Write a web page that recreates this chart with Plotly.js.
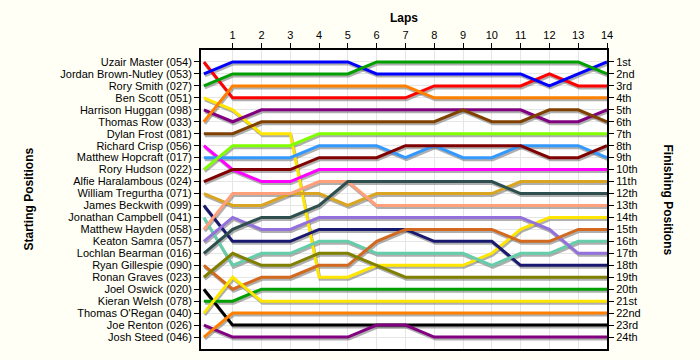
<!DOCTYPE html>
<html>
<head>
<meta charset="utf-8">
<script src="https://cdn.plot.ly/plotly-3.0.1.min.js"></script>
<style>
html, body { margin: 0; padding: 0; background: #fffff6; }
#chart { width: 700px; height: 360px; }
</style>
</head>
<body>
<div id="chart"></div>
<script>
// ---- data ----
const laps = [0, 1, 2, 3, 4, 5, 6, 7, 8, 9, 10, 11, 12, 13, 14];
const lapTicks = [1, 2, 3, 4, 5, 6, 7, 8, 9, 10, 11, 12, 13, 14];
const positionTicks = [1,2,3,4,5,6,7,8,9,10,11,12,13,14,15,16,17,18,19,20,21,22,23,24];

const drivers = [
  "Uzair Master (054)", "Jordan Brown-Nutley (053)", "Rory Smith (027)", "Ben Scott (051)",
  "Harrison Huggan (098)", "Thomas Row (033)", "Dylan Frost (081)", "Richard Crisp (056)",
  "Matthew Hopcraft (017)", "Rory Hudson (022)", "Alfie Haralambous (024)", "William Tregurtha (071)",
  "James Beckwith (099)", "Jonathan Campbell (041)", "Matthew Hayden (058)", "Keaton Samra (057)",
  "Lochlan Bearman (016)", "Ryan Gillespie (090)", "Ronan Graves (023)", "Joel Oswick (020)",
  "Kieran Welsh (078)", "Thomas O'Regan (040)", "Joe Renton (026)", "Josh Steed (046)"
];

const finishLabels = ["1st","2nd","3rd","4th","5th","6th","7th","8th","9th","10th","11th","12th",
  "13th","14th","15th","16th","17th","18th","19th","20th","21st","22nd","23rd","24th"];

// positions per lap (lap 0 = start)
const posUzair     = [1,4,4,4,4,4,4,4,3,3,3,3,2,3,3];
const posJordan    = [2,1,1,1,1,1,2,2,2,2,2,2,3,2,1];
const posRorySmith = [3,2,2,2,2,2,1,1,1,1,1,1,1,1,2];
const posBen       = [4,5,7,7,19,19,18,18,18,18,17,15,14,14,14];
const posHarrison  = [5,6,5,5,5,5,5,5,5,5,5,5,6,6,5];
const posThomasRow = [6,3,3,3,3,3,3,3,4,4,4,4,4,4,4];
const posDylan     = [7,7,6,6,6,6,6,6,6,5,6,6,5,5,6];
const posRichard   = [8,10,11,11,10,10,10,10,10,10,10,10,10,10,10];
const posHopcraft  = [9,9,9,9,8,8,8,9,8,9,9,8,8,8,9];
const posRoryHudson= [10,8,8,8,7,7,7,7,7,7,7,7,7,7,7];
const posAlfie     = [11,10,10,10,9,9,9,8,8,8,8,8,9,9,8];
const posWilliam   = [12,13,13,12,12,13,12,12,12,12,12,11,11,11,11];
const posJames     = [13,16,16,16,15,15,15,15,16,16,16,18,18,18,18];
const posJonathan  = [14,18,17,17,16,16,17,17,17,17,18,17,17,16,16];
const posHayden    = [15,12,12,12,11,11,13,13,13,13,13,13,13,13,13];
const posKeaton    = [16,14,15,15,14,14,14,14,14,14,14,14,15,17,17];
const posLochlan   = [17,15,14,14,13,11,11,11,11,11,11,12,12,12,12];
const posRyan      = [18,20,19,19,18,18,16,15,15,15,15,16,16,15,15];
const posRonan     = [19,17,18,18,17,17,18,19,19,19,19,19,19,19,19];
const posJoel      = [20,23,23,23,23,23,23,23,23,23,23,23,23,23,23];
const posKieran    = [21,21,20,20,20,20,20,20,20,20,20,20,20,20,20];
const posORegan    = [22,19,21,21,21,21,21,21,21,21,21,21,21,21,21];
const posJoe       = [23,24,24,24,24,24,23,23,24,24,24,24,24,24,24];
const posJosh      = [24,22,22,22,22,22,22,22,22,22,22,22,22,22,22];

const series = [posUzair, posJordan, posRorySmith, posBen, posHarrison, posThomasRow, posDylan,
  posRichard, posHopcraft, posRoryHudson, posAlfie, posWilliam, posJames, posJonathan, posHayden,
  posKeaton, posLochlan, posRyan, posRonan, posJoel, posKieran, posORegan, posJoe, posJosh];

// ---- styling ----
const colors = ["#FF0000", "#0000FF", "#00A000", "#FFE600", "#800080", "#FF8000", "#804000",
  "#FF00FF", "#3399FF", "#80FF00", "#800000", "#DAA520", "#191970", "#66CDAA", "#FFA07A",
  "#9370DB", "#2F4F4F", "#D2691E", "#808000", "#000000", "#00A000", "#FFE600", "#800080", "#FF8000"];

const W = 700, H = 360;
const M = { l: 201, r: 93, t: 50, b: 11 };
const xRange = [-0.1, 14];
const yRange = [25, 0];
const plotW = W - M.l - M.r, plotH = H - M.t - M.b;
const pxX = (xRange[1] - xRange[0]) / plotW;
const pxY = (yRange[0] - yRange[1]) / plotH;
const shadowDx = 1 * pxX, shadowDy = 2 * pxY;

const traces = [];
series.forEach((s, i) => {
  traces.push({
    x: laps.map(v => v + shadowDx), y: s.map(v => v + shadowDy),
    type: "scatter", mode: "lines",
    line: { color: "rgba(110,110,110,0.55)", width: 3 },
    hoverinfo: "skip", showlegend: false, xaxis: "x", yaxis: "y"
  });
});
series.forEach((s, i) => {
  traces.push({
    x: laps, y: s, name: drivers[i],
    type: "scatter", mode: "lines",
    line: { color: colors[i], width: 3 },
    showlegend: false, xaxis: "x", yaxis: "y"
  });
});
// carrier for the right axis
traces.push({ x: [laps[0]], y: [positionTicks[0]], type: "scatter", mode: "markers",
  marker: { opacity: 0 }, hoverinfo: "skip", showlegend: false, xaxis: "x", yaxis: "y2" });

const tickFont = { family: "Liberation Sans, Arial, sans-serif", size: 11, color: "#000" };
const titleFont = { family: "Liberation Sans, Arial, sans-serif", size: 12, color: "#000" };

const layout = {
  width: W, height: H,
  margin: M,
  paper_bgcolor: "#fffff6",
  plot_bgcolor: "#ffffff",
  showlegend: false,
  xaxis: {
    range: xRange, side: "top", tickmode: "array", tickvals: lapTicks,
    ticks: "outside", ticklen: 5, tickcolor: "#000", tickwidth: 1,
    showline: true, linecolor: "#000", linewidth: 2, mirror: true,
    showgrid: true, gridcolor: "#e6e6e6", gridwidth: 1, zeroline: false,
    tickfont: tickFont,
    title: { text: "<b>Laps</b>", font: titleFont, standoff: 3 }
  },
  yaxis: {
    range: yRange, tickmode: "array", tickvals: positionTicks, ticktext: drivers,
    ticks: "outside", ticklen: 5, tickcolor: "#000", tickwidth: 1,
    showline: true, linecolor: "#000", linewidth: 2,
    showgrid: true, gridcolor: "#e6e6e6", gridwidth: 1, zeroline: false,
    tickfont: tickFont
  },
  yaxis2: {
    range: yRange, overlaying: "y", side: "right", tickmode: "array",
    tickvals: positionTicks, ticktext: finishLabels,
    ticks: "outside", ticklen: 5, tickcolor: "#000", tickwidth: 1,
    showline: true, linecolor: "#000", linewidth: 2,
    showgrid: false, zeroline: false, tickfont: tickFont
  },
  annotations: [
    { text: "<b>Starting Positions</b>", xref: "paper", yref: "paper",
      x: (28 - M.l) / plotW, y: 0.5, textangle: -90, showarrow: false,
      xanchor: "center", yanchor: "middle", font: titleFont },
    { text: "<b>Finishing Positions</b>", xref: "paper", yref: "paper",
      x: (668 - M.l) / plotW, y: 0.5, textangle: 90, showarrow: false,
      xanchor: "center", yanchor: "middle", font: titleFont }
  ]
};

Plotly.newPlot("chart", traces, layout, { displayModeBar: false, staticPlot: true });
</script>
</body>
</html>
